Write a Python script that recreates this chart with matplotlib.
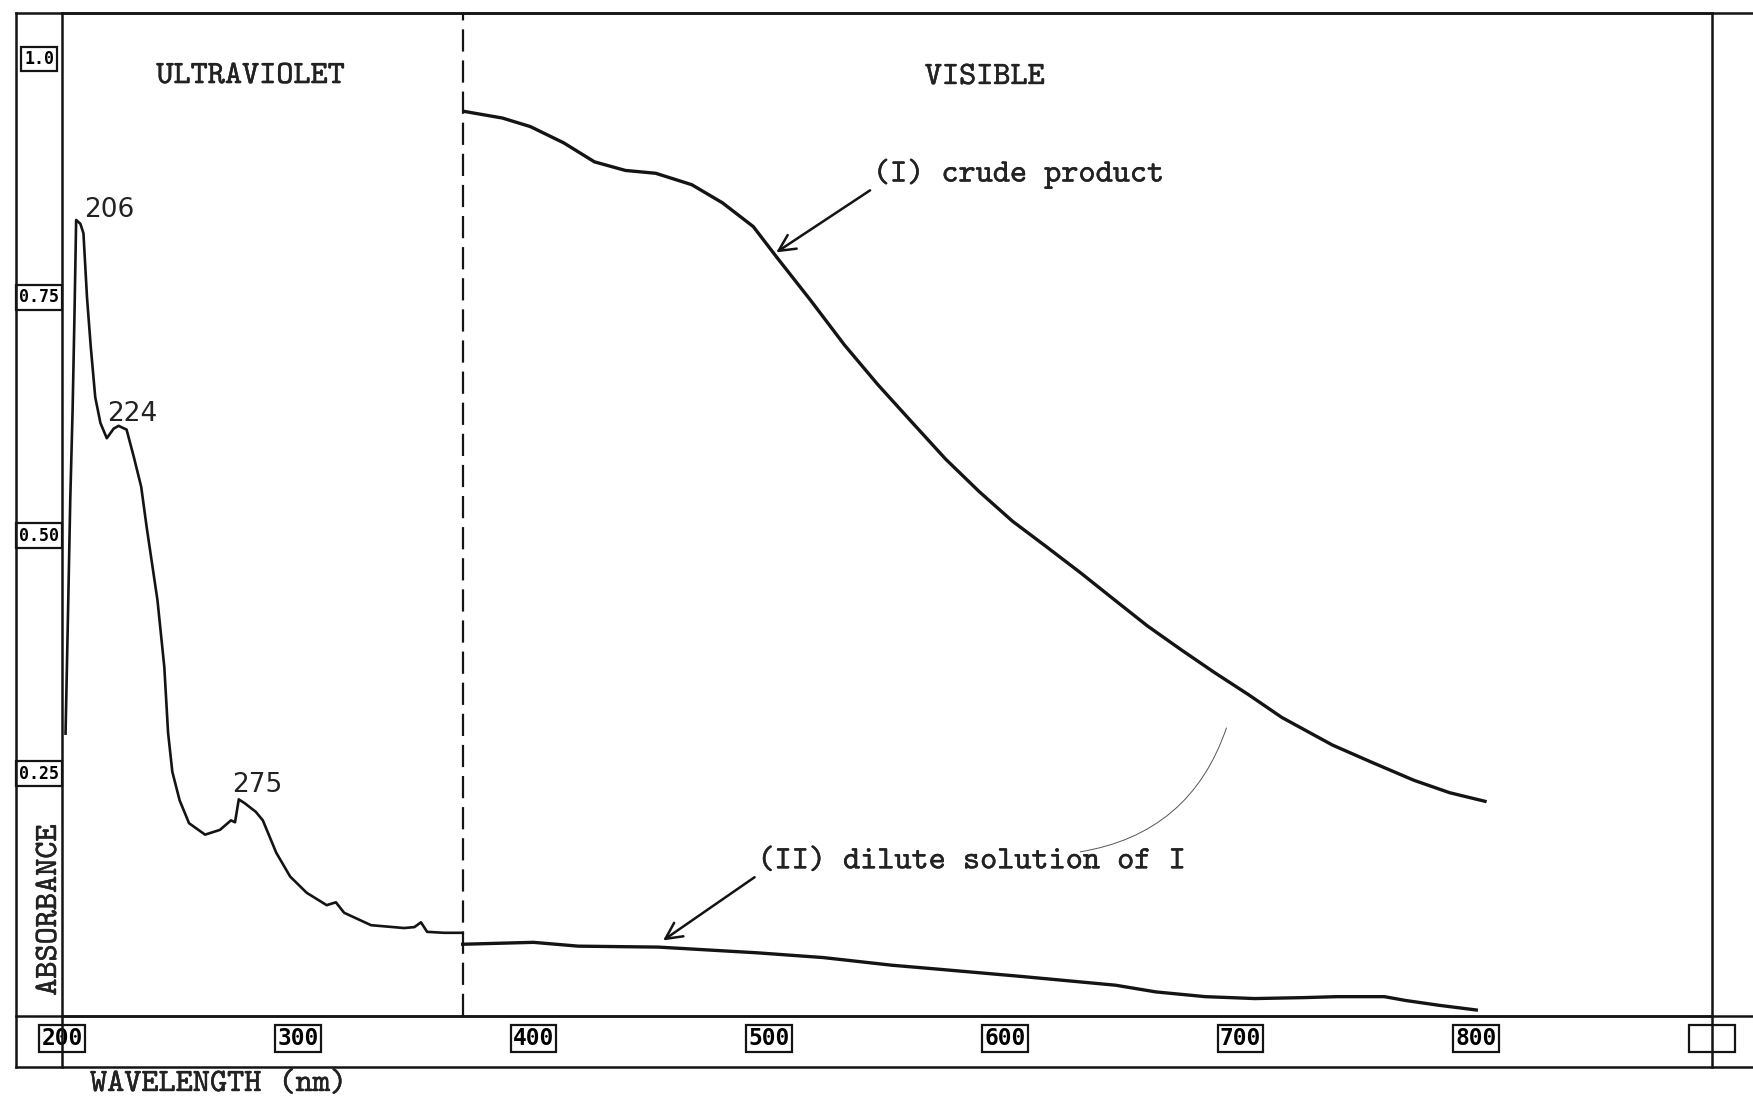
import matplotlib
matplotlib.use("Agg")
import matplotlib.pyplot as plt
import matplotlib.patheffects as pe
from matplotlib.lines import Line2D

# ultraviolet scan, 200 nm up to the lamp change
uv_wl = [201.5, 202.5, 203.5, 204.5, 205.3, 206.0, 207.8, 209.1, 210.6, 212.2,
         214.1, 216.3, 219.0, 221.9, 224.0, 227.4, 230.5, 233.6, 235.9, 240.5,
         243.4, 245.0, 246.8, 249.9, 253.9, 260.7, 267.0, 271.7, 273.4, 275.0,
         277.5, 282.2, 285.2, 290.9, 296.8, 303.8, 312.3, 316.2, 319.7, 331.1,
         345.1, 349.5, 352.3, 354.9, 362.2, 370.0]
uv_abs = [0.290, 0.410, 0.535, 0.630, 0.730, 0.829, 0.825, 0.815, 0.748, 0.696,
          0.643, 0.616, 0.600, 0.610, 0.613, 0.609, 0.580, 0.549, 0.507, 0.430,
          0.360, 0.291, 0.250, 0.220, 0.196, 0.184, 0.189, 0.199, 0.197, 0.221,
          0.217, 0.208, 0.199, 0.165, 0.140, 0.123, 0.110, 0.113, 0.102, 0.089,
          0.086, 0.087, 0.092, 0.082, 0.081, 0.081]

# visible scan, (I) crude product
crude_wl = [370.5, 386.8, 398.7, 412.8, 425.9, 439.0, 451.9, 467.2, 480.2,
            493.3, 503.2, 517.5, 531.9, 546.2, 560.5, 574.9, 589.1, 603.2,
            617.7, 632.0, 646.2, 660.5, 674.8, 689.0, 703.3, 717.5, 739.0,
            755.6, 773.6, 788.7, 803.7]
crude_abs = [0.943, 0.936, 0.927, 0.910, 0.890, 0.881, 0.878, 0.866, 0.847,
             0.822, 0.790, 0.745, 0.698, 0.656, 0.617, 0.578, 0.544, 0.513,
             0.486, 0.459, 0.431, 0.403, 0.378, 0.354, 0.331, 0.307, 0.278,
             0.260, 0.241, 0.228, 0.219]

# visible scan, (II) dilute solution of I
dilute_wl = [370, 400, 419, 453, 495, 523, 552, 571, 608, 647, 664, 685, 706,
             727, 741, 761, 770, 784, 800]
dilute_abs = [0.069, 0.071, 0.067, 0.066, 0.060, 0.055, 0.047, 0.043, 0.035,
              0.026, 0.019, 0.014, 0.012, 0.013, 0.014, 0.014, 0.010, 0.005,
              0.000]

peak_wl = [206, 224, 275]
lamp_switch = 370

x_ticks = [200, 300, 400, 500, 600, 700, 800, 900]
x_labels = ["200", "300", "400", "500", "600", "700", "800", "   "]
y_ticks = [1.0, 0.75, 0.50, 0.25]
y_labels = ["1.0", "0.75", "0.50", "0.25"]

INK = "#141414"
TYPE = "cmtt10"      # typewriter face bundled with matplotlib
TYPE_SIZE = 23.5
typed = dict(family=TYPE, fontsize=TYPE_SIZE, color="#222222",
             path_effects=[pe.withStroke(linewidth=0.3, foreground="#222222")])

W, H = 1753, 1096
fig = plt.figure(figsize=(W / 100, H / 100), dpi=100)
fig.patch.set_facecolor("white")


def fx(px):
    return px / W


def fy(py):
    return 1 - py / H


ax = fig.add_axes([fx(62), fy(1016), fx(1712) - fx(62), fy(13) - fy(1016)])
ax.set_xlim(200, 900)
ax.set_ylim(-0.0063, 1.0462)
for sp in ax.spines.values():
    sp.set_linewidth(1.8)
    sp.set_color(INK)

# spectra
ax.plot(uv_wl, uv_abs, color=INK, lw=1.9, solid_joinstyle="round")
ax.plot(crude_wl, crude_abs, color=INK, lw=2.4, solid_joinstyle="round")
ax.plot(dilute_wl, dilute_abs, color=INK, lw=2.4, solid_joinstyle="round")
ax.axvline(lamp_switch, color=INK, lw=1.6, ls=(0, (10, 4)))

# peak maxima
peak_off = [(5.5, 2.2), (-8.6, 3.6), (-5.0, 5.0)]
for w, off in zip(peak_wl, peak_off):
    a = uv_abs[uv_wl.index(w)]
    ax.annotate(str(w), xy=(w, a), xytext=off, textcoords="offset points",
                ha="left", va="baseline", fontsize=19, color="#222222",
                family="DejaVu Sans")

# boxed scale labels in the frame strips
ax.set_xticks(x_ticks)
ax.set_xticklabels(x_labels)
ax.set_yticks(y_ticks)
ax.set_yticklabels(y_labels)
ax.tick_params(axis="x", length=0, pad=8.0)
ax.tick_params(axis="y", length=0, pad=16.5)
for lab in ax.get_xticklabels():
    lab.set_fontfamily("DejaVu Sans Mono")
    lab.set_fontweight("bold")
    lab.set_fontsize(16.5)
    lab.set_bbox(dict(boxstyle="square,pad=0.1", fc="white", ec=INK, lw=1.6))
for lab in ax.get_yticklabels():
    lab.set_fontfamily("DejaVu Sans Mono")
    lab.set_fontweight("bold")
    lab.set_fontsize(12)
    lab.set_horizontalalignment("center")
    lab.set_bbox(dict(boxstyle="square,pad=0.2", fc="white", ec=INK, lw=1.6))

# region headings and curve labels
ax.text(280, 0.979, "ULTRAVIOLET", ha="center", va="center", **typed)
ax.text(591.5, 0.978, "VISIBLE", ha="center", va="center", **typed)

arrow = dict(arrowstyle="->,head_length=0.5,head_width=0.25", lw=1.8,
             color=INK, shrinkA=0, shrinkB=0, relpos=(0, 0))
ax.annotate("(I) crude product", xy=(503, 0.795), xytext=(544, 0.877),
            ha="left", va="center", arrowprops=arrow, **typed)
ax.annotate("(II) dilute solution of I", xy=(455, 0.073), xytext=(495, 0.155),
            ha="left", va="center", arrowprops=arrow, **typed)

# faint pencil stroke
ax.annotate("", xy=(632, 0.166), xytext=(694, 0.296),
            arrowprops=dict(arrowstyle="-", connectionstyle="arc3,rad=-0.3",
                            lw=0.7, color="#555555", shrinkA=0, shrinkB=0))

# outer frame: label strips on the left and along the bottom
frame = [
    ([16, 16], [13, 1067]),
    ([16, W], [13, 13]),
    ([16, W], [1016, 1016]),
    ([16, W], [1067, 1067]),
    ([62, 62], [1016, 1067]),
    ([1712, 1712], [1016, 1067]),
]
for xs, ys in frame:
    fig.add_artist(Line2D([fx(v) for v in xs], [fy(v) for v in ys],
                          transform=fig.transFigure, color=INK, lw=1.8))

fig.text(fx(50), fy(910), "ABSORBANCE", rotation=90, ha="center", va="center",
         **typed)
fig.text(fx(90), fy(1085), "WAVELENGTH (nm)", ha="left", va="center", **typed)

fig.savefig("out.png", dpi=100, facecolor="white")
